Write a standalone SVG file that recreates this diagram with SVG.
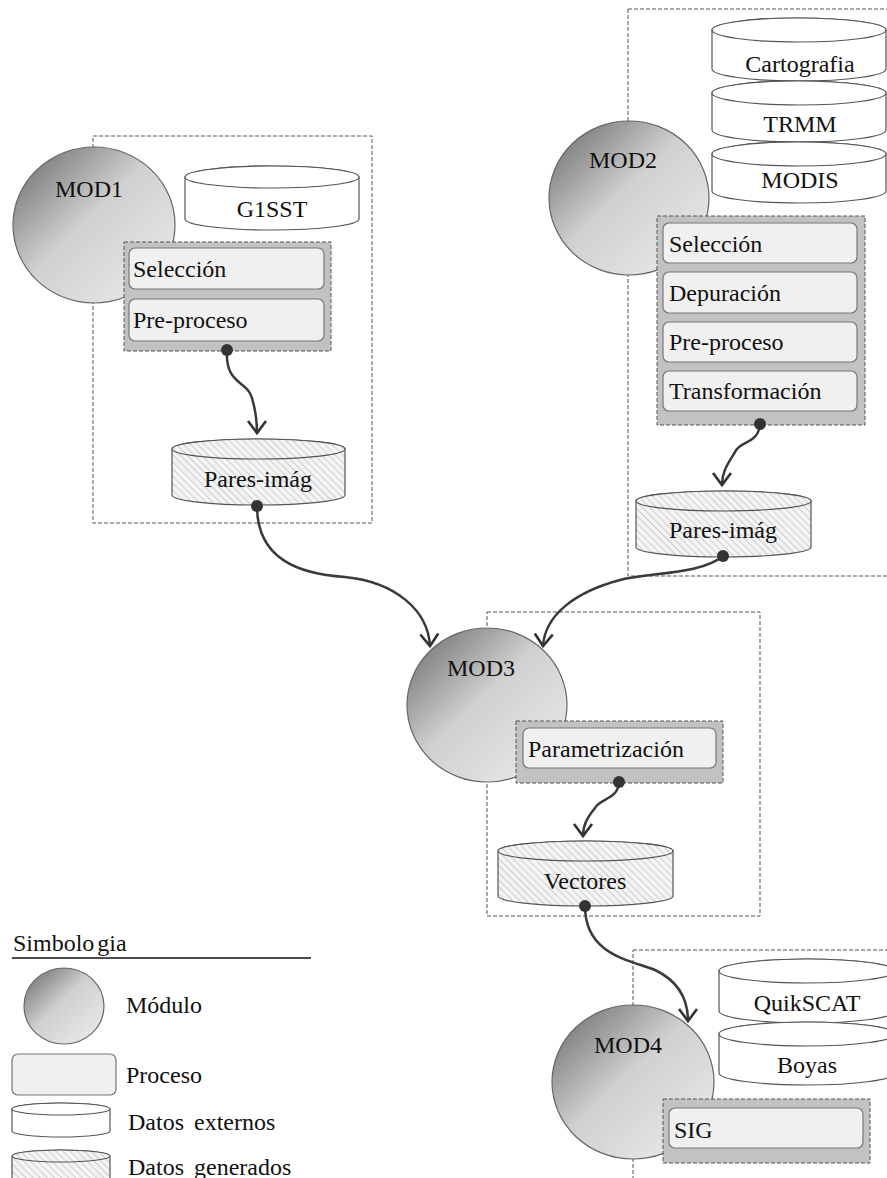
<svg xmlns="http://www.w3.org/2000/svg" width="887" height="1178" viewBox="0 0 887 1178">
  <defs>
    <linearGradient id="modGrad" x1="0.1" y1="0.1" x2="0.9" y2="0.9">
      <stop offset="0" stop-color="#7c7c7c"/>
      <stop offset="0.45" stop-color="#d0d0d0"/>
      <stop offset="1" stop-color="#e8e8e8"/>
    </linearGradient>
    <pattern id="hatch" width="5" height="5" patternUnits="userSpaceOnUse" patternTransform="rotate(-45)">
      <rect width="5" height="5" fill="#f4f4f4"/>
      <line x1="0" y1="0" x2="0" y2="5" stroke="#c4c4c4" stroke-width="1.6"/>
    </pattern>
    <marker id="arrow" markerUnits="userSpaceOnUse" markerWidth="30" markerHeight="30" viewBox="-15 -15 30 30" refX="0" refY="0" orient="auto">
      <path d="M-12,-9 L0,0 L-12,9" fill="none" stroke="#333" stroke-width="2.6" stroke-linejoin="miter"/>
    </marker>
  </defs>
  <style>
    .frame { fill: none; stroke: #555; stroke-width: 1; stroke-dasharray: 4 2; }
    .module { fill: url(#modGrad); stroke: #666; stroke-width: 1.2; }
    .ext { fill: #fff; stroke: #555; stroke-width: 1.2; }
    .gen { fill: url(#hatch); stroke: #555; stroke-width: 1.2; }
    .group { fill: #c2c2c2; stroke: #555; stroke-width: 1; stroke-dasharray: 4 2; }
    .proc { fill: #f0f0f0; stroke: #777; stroke-width: 1.2; }
    .t { font-family: "Liberation Serif", "DejaVu Serif", serif; font-size: 24px; fill: #111; }
    .mid { text-anchor: middle; }
    .link { fill: none; stroke: #3a3a3a; stroke-width: 2.5; marker-end: url(#arrow); }
    .dot { fill: #333; }
  </style>

  <!-- module frames -->
  <rect class="frame" x="93" y="136" width="279" height="387"/>
  <rect class="frame" x="628" y="9" width="272" height="567"/>
  <rect class="frame" x="487" y="612" width="273" height="304"/>
  <rect class="frame" x="633" y="950" width="267" height="250"/>

  <!-- MOD1 -->
  <g id="mod1">
    <ellipse class="module" cx="94" cy="225" rx="81" ry="78"/>
    <text class="t mid" x="89" y="197">MOD1</text>
  </g>
  <g id="g1sst">
    <path class="ext" d="M185,177 V219 A87,11 0 0 0 359,219 V177 A87,11 0 0 0 185,177 Z"/>
    <ellipse class="ext" cx="272" cy="177" rx="87" ry="11"/>
    <text class="t mid" x="272" y="217">G1SST</text>
  </g>
  <g id="proc1">
    <rect class="group" x="124" y="242" width="207" height="109"/>
    <rect class="proc" x="129" y="248" width="195" height="41" rx="6"/>
    <text class="t" x="133" y="277">Selección</text>
    <rect class="proc" x="129" y="299" width="195" height="42" rx="6"/>
    <text class="t" x="133" y="328">Pre-proceso</text>
  </g>
  <g id="pares1">
    <path class="gen" d="M172,449 V495 A86.5,10 0 0 0 345,495 V449 A86.5,10 0 0 0 172,449 Z"/>
    <ellipse class="gen" cx="258.5" cy="449" rx="86.5" ry="10"/>
    <text class="t mid" x="258" y="487">Pares-imág</text>
  </g>

  <!-- MOD2 -->
  <g id="mod2">
    <ellipse class="module" cx="629" cy="198" rx="80" ry="77"/>
    <text class="t mid" x="623" y="168">MOD2</text>
  </g>
  <g id="cartografia">
    <path class="ext" d="M712,30 V69 A87,12 0 0 0 886,69 V30 A87,12 0 0 0 712,30 Z"/>
    <ellipse class="ext" cx="799" cy="30" rx="87" ry="12"/>
    <text class="t mid" x="800" y="72">Cartografia</text>
  </g>
  <g id="trmm">
    <path class="ext" d="M712,93 V130 A87,12 0 0 0 886,130 V93 A87,12 0 0 0 712,93 Z"/>
    <ellipse class="ext" cx="799" cy="93" rx="87" ry="12"/>
    <text class="t mid" x="800" y="132">TRMM</text>
  </g>
  <g id="modis">
    <path class="ext" d="M712,154 V191 A87,12 0 0 0 886,191 V154 A87,12 0 0 0 712,154 Z"/>
    <ellipse class="ext" cx="799" cy="154" rx="87" ry="12"/>
    <text class="t mid" x="800" y="188">MODIS</text>
  </g>
  <g id="proc2">
    <rect class="group" x="657" y="216" width="208" height="209"/>
    <rect class="proc" x="663" y="223" width="194" height="40" rx="6"/>
    <text class="t" x="669" y="252">Selección</text>
    <rect class="proc" x="663" y="272" width="194" height="41" rx="6"/>
    <text class="t" x="669" y="301">Depuración</text>
    <rect class="proc" x="663" y="322" width="194" height="40" rx="6"/>
    <text class="t" x="669" y="350">Pre-proceso</text>
    <rect class="proc" x="663" y="371" width="194" height="40" rx="6"/>
    <text class="t" x="669" y="399">Transformación</text>
  </g>
  <g id="pares2">
    <path class="gen" d="M636,501 V547 A87.5,10 0 0 0 811,547 V501 A87.5,10 0 0 0 636,501 Z"/>
    <ellipse class="gen" cx="723.5" cy="501" rx="87.5" ry="10"/>
    <text class="t mid" x="723" y="538">Pares-imág</text>
  </g>

  <!-- MOD3 -->
  <g id="mod3">
    <ellipse class="module" cx="487" cy="705" rx="80" ry="77"/>
    <text class="t mid" x="481" y="676">MOD3</text>
  </g>
  <g id="proc3">
    <rect class="group" x="516" y="721" width="207" height="62"/>
    <rect class="proc" x="523" y="728" width="193" height="40" rx="6"/>
    <text class="t" x="528" y="757">Parametrización</text>
  </g>
  <g id="vectores">
    <path class="gen" d="M498,851 V896 A87.5,10 0 0 0 673,896 V851 A87.5,10 0 0 0 498,851 Z"/>
    <ellipse class="gen" cx="585.5" cy="851" rx="87.5" ry="10"/>
    <text class="t mid" x="585" y="889">Vectores</text>
  </g>

  <!-- MOD4 -->
  <g id="mod4">
    <ellipse class="module" cx="633" cy="1082" rx="81" ry="77"/>
    <text class="t mid" x="628" y="1053">MOD4</text>
  </g>
  <g id="quikscat">
    <path class="ext" d="M719,971 V1011 A88,12 0 0 0 895,1011 V971 A88,12 0 0 0 719,971 Z"/>
    <ellipse class="ext" cx="807" cy="971" rx="88" ry="12"/>
    <text class="t mid" x="807" y="1011">QuikSCAT</text>
  </g>
  <g id="boyas">
    <path class="ext" d="M719,1034 V1073 A88,12 0 0 0 895,1073 V1034 A88,12 0 0 0 719,1034 Z"/>
    <ellipse class="ext" cx="807" cy="1034" rx="88" ry="12"/>
    <text class="t mid" x="807" y="1073">Boyas</text>
  </g>
  <g id="proc4">
    <rect class="group" x="663" y="1099" width="207" height="64"/>
    <rect class="proc" x="669" y="1108" width="194" height="40" rx="6"/>
    <text class="t" x="674" y="1138">SIG</text>
  </g>

  <!-- connectors -->
  <g id="connectors">
    <path class="link" d="M227,350 C225,385 247,380 252,398 C256,412 257,420 257,433"/>
    <path class="link" d="M257,506 C257,560 300,574 345,577 C395,582 428,610 430,646"/>
    <path class="link" d="M760,424 C758,445 740,440 735,452 C727,465 722,472 722,485"/>
    <path class="link" d="M723,556 C700,575 650,572 620,580 C575,592 545,615 543,646"/>
    <path class="link" d="M619,782 C618,800 600,798 595,808 C587,818 583,825 583,836"/>
    <path class="link" d="M585,906 C585,955 630,960 655,970 C680,982 688,1000 688,1021"/>
    <circle class="dot" cx="227" cy="350" r="6"/>
    <circle class="dot" cx="257" cy="506" r="6"/>
    <circle class="dot" cx="760" cy="424" r="6"/>
    <circle class="dot" cx="723" cy="556" r="6"/>
    <circle class="dot" cx="619" cy="782" r="6"/>
    <circle class="dot" cx="585" cy="906" r="6"/>
  </g>

  <!-- legend -->
  <g id="legend">
    <text class="t" x="13" y="951">Simbolo<tspan dx="3">gia</tspan></text>
    <line x1="12" y1="958" x2="311" y2="958" stroke="#111" stroke-width="1.5"/>
    <ellipse class="module" cx="64" cy="1006" rx="40" ry="38"/>
    <text class="t" x="126" y="1013">Módulo</text>
    <rect class="proc" x="12" y="1054" width="104" height="41" rx="6"/>
    <text class="t" x="126" y="1083">Proceso</text>
    <path class="ext" d="M12,1109 V1131 A49,6 0 0 0 110,1131 V1109 A49,6 0 0 0 12,1109 Z"/>
    <ellipse class="ext" cx="61" cy="1109" rx="49" ry="6"/>
    <text class="t" x="128" y="1130" word-spacing="4">Datos externos</text>
    <path class="gen" d="M12,1156 V1200 A49,6 0 0 0 110,1200 V1156 A49,6 0 0 0 12,1156 Z"/>
    <ellipse class="gen" cx="61" cy="1156" rx="49" ry="6"/>
    <text class="t" x="128" y="1175" word-spacing="4">Datos generados</text>
  </g>
</svg>
